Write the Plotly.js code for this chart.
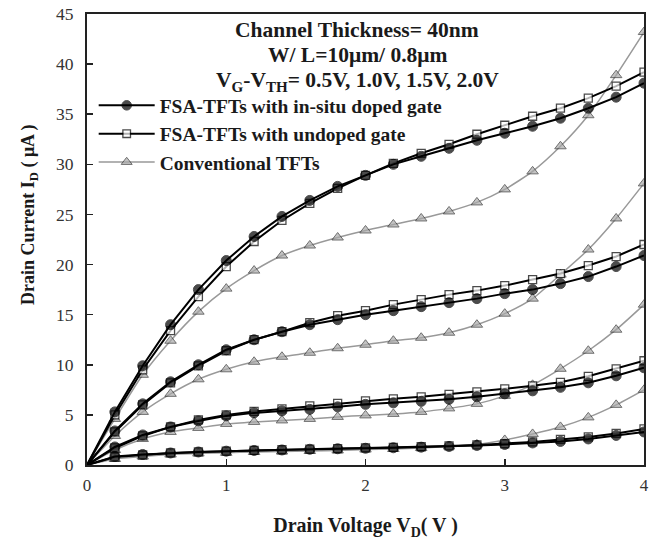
<!DOCTYPE html>
<html>
<head>
<meta charset="utf-8">
<script src="https://cdn.plot.ly/plotly-3.0.1.min.js"></script>
<style>html,body{margin:0;padding:0;background:#fff;}#chart{width:650px;height:542px;}</style>
</head>
<body>
<div id="chart"></div>
<script>
// Drain voltage (V)
const vd = [0,0.2,0.4,0.6,0.8,1.0,1.2,1.4,1.6,1.8,2.0,2.2,2.4,2.6,2.8,3.0,3.2,3.4,3.6,3.8,4.0];
const gateLabels = ["0.5V","1.0V","1.5V","2.0V"];

// FSA-TFTs with in-situ doped gate (uA)
const doped05 = [0,0.85,1.05,1.2,1.3,1.38,1.45,1.5,1.57,1.62,1.67,1.72,1.78,1.85,1.95,2.05,2.2,2.35,2.6,2.95,3.3];
const doped10 = [0,1.8,3.0,3.8,4.4,4.9,5.2,5.4,5.55,5.8,6.05,6.2,6.35,6.55,6.8,7.1,7.4,7.75,8.2,8.9,9.7];
const doped15 = [0,3.4,6.1,8.3,10.0,11.5,12.5,13.3,14.0,14.5,15.0,15.4,15.8,16.2,16.6,17.1,17.5,18.1,18.8,19.8,20.9];
const doped20 = [0,5.3,9.9,14.0,17.5,20.4,22.8,24.8,26.4,27.8,28.9,30.0,30.8,31.6,32.4,33.1,33.8,34.6,35.6,36.7,38.1];

// FSA-TFTs with undoped gate (uA)
const undoped05 = [0,0.8,1.0,1.2,1.3,1.38,1.45,1.52,1.58,1.64,1.7,1.75,1.82,1.9,2.0,2.12,2.3,2.55,2.8,3.15,3.6];
const undoped10 = [0,1.7,2.9,3.8,4.5,5.0,5.35,5.6,5.9,6.15,6.4,6.6,6.8,7.05,7.3,7.6,7.9,8.25,8.85,9.6,10.4];
const undoped15 = [0,3.3,6.0,8.2,9.9,11.4,12.5,13.3,14.2,14.9,15.4,16.0,16.5,17.0,17.4,17.9,18.5,19.1,19.9,20.8,22.0];
const undoped20 = [0,5.0,9.5,13.4,16.8,19.8,22.3,24.4,26.1,27.6,28.9,30.1,31.1,32.0,33.0,33.9,34.8,35.6,36.6,37.8,39.2];

// Conventional TFTs (uA)
const conv05 = [0,0.6,0.85,1.05,1.15,1.22,1.3,1.35,1.4,1.45,1.55,1.6,1.7,1.85,2.05,2.5,3.1,3.8,4.75,6.0,7.5];
const conv10 = [0,1.5,2.6,3.3,3.7,4.1,4.3,4.45,4.6,4.8,4.95,5.1,5.3,5.65,6.1,6.9,8.0,9.6,11.4,13.5,16.0];
const conv15 = [0,2.9,5.3,7.1,8.55,9.55,10.3,10.8,11.2,11.65,12.0,12.4,12.7,13.2,14.0,15.1,16.6,19.0,21.5,24.6,28.1];
const conv20 = [0,4.6,9.0,12.4,15.3,17.6,19.4,20.9,21.9,22.7,23.4,24.0,24.6,25.3,26.2,27.5,29.3,31.8,34.9,38.9,43.2];

const seriesNames = ["FSA-TFTs with in-situ doped gate","FSA-TFTs with undoped gate","Conventional TFTs"];
const groups = [
  [doped05,doped10,doped15,doped20],
  [undoped05,undoped10,undoped15,undoped20],
  [conv05,conv10,conv15,conv20]
];

const styles = [
  {line:{color:'#000',width:2}, marker:{symbol:'circle',color:'#000',line:{color:'#000',width:1}}, ms:10},
  {line:{color:'#000',width:2}, marker:{symbol:'square',color:'#fff',line:{color:'#000',width:1.3}}, ms:8},
  {line:{color:'#999',width:1.5,shape:'spline',smoothing:0.6}, marker:{symbol:'triangle-up',color:'#aaa',line:{color:'#333',width:1}}, ms:10}
];

const traces = [];
// draw conventional first (underneath), then undoped, then doped
[2,1,0].forEach(g => {
  groups[g].forEach((ys, k) => {
    const st = styles[g];
    traces.push({
      x: vd, y: ys, type:'scatter', mode:'lines+markers',
      name: seriesNames[g], legendgroup: 'g'+g, legendrank: g+1,
      showlegend: k === 0,
      hovertext: gateLabels[k],
      line: st.line,
      marker: Object.assign({}, st.marker, {size: vd.map(v => v === 0 ? 0 : st.ms)})
    });
  });
});

const serif = 'Liberation Serif, Times New Roman, serif';
const txt = '#1a1a1a';
const layout = {
  width:650, height:542,
  margin:{l:87, r:6, t:14, b:77},
  paper_bgcolor:'#fff', plot_bgcolor:'#fff',
  showlegend:true,
  legend:{x:0.012, y:0.84, xanchor:'left', yanchor:'top', bgcolor:'rgba(0,0,0,0)',
          font:{family:serif, size:19.5, color:txt, weight:'bold'}, itemwidth:56, tracegroupgap:0},
  xaxis:{range:[0,4], dtick:1, tick0:0, ticks:'inside', ticklen:6, tickwidth:1.5, tickcolor:'#222',
         showline:true, linewidth:2, linecolor:'#222', mirror:true, showgrid:false, zeroline:false,
         ticklabelstandoff:4,
         tickfont:{family:serif, size:17, color:'#333'},
         title:{text:'<b>Drain Voltage V<sub>D</sub>( V )</b>', font:{family:serif, size:20, color:txt}, standoff:24}},
  yaxis:{range:[0,45], dtick:5, tick0:0, ticks:'inside', ticklen:6, tickwidth:1.5, tickcolor:'#222',
         showline:true, linewidth:2, linecolor:'#222', mirror:true, showgrid:false, zeroline:false,
         ticklabelstandoff:8,
         tickfont:{family:serif, size:17.5, color:'#333'}},
  annotations:[
    {x:-0.102, y:0.555, xref:'paper', yref:'paper', xanchor:'center', yanchor:'middle', textangle:-90,
     text:'<b>Drain Current I<sub>D</sub> ( μA )</b>', showarrow:false, font:{family:serif, size:18, color:txt}},
    {x:1.94, y:43.4, xref:'x', yref:'y', text:'<b>Channel Thickness= 40nm</b>', showarrow:false, font:{family:serif, size:21.5, color:txt}},
    {x:1.94, y:40.9, xref:'x', yref:'y', text:'<b>W/ L=10μm/ 0.8μm</b>', showarrow:false, font:{family:serif, size:21.5, color:txt}},
    {x:1.94, y:38.3, xref:'x', yref:'y', text:'<b>V<sub>G</sub>-V<sub>TH</sub>= 0.5V, 1.0V, 1.5V, 2.0V</b>', showarrow:false, font:{family:serif, size:21.5, color:txt}}
  ]
};

Plotly.newPlot('chart', traces, layout, {displayModeBar:false, staticPlot:true});
</script>
</body>
</html>
